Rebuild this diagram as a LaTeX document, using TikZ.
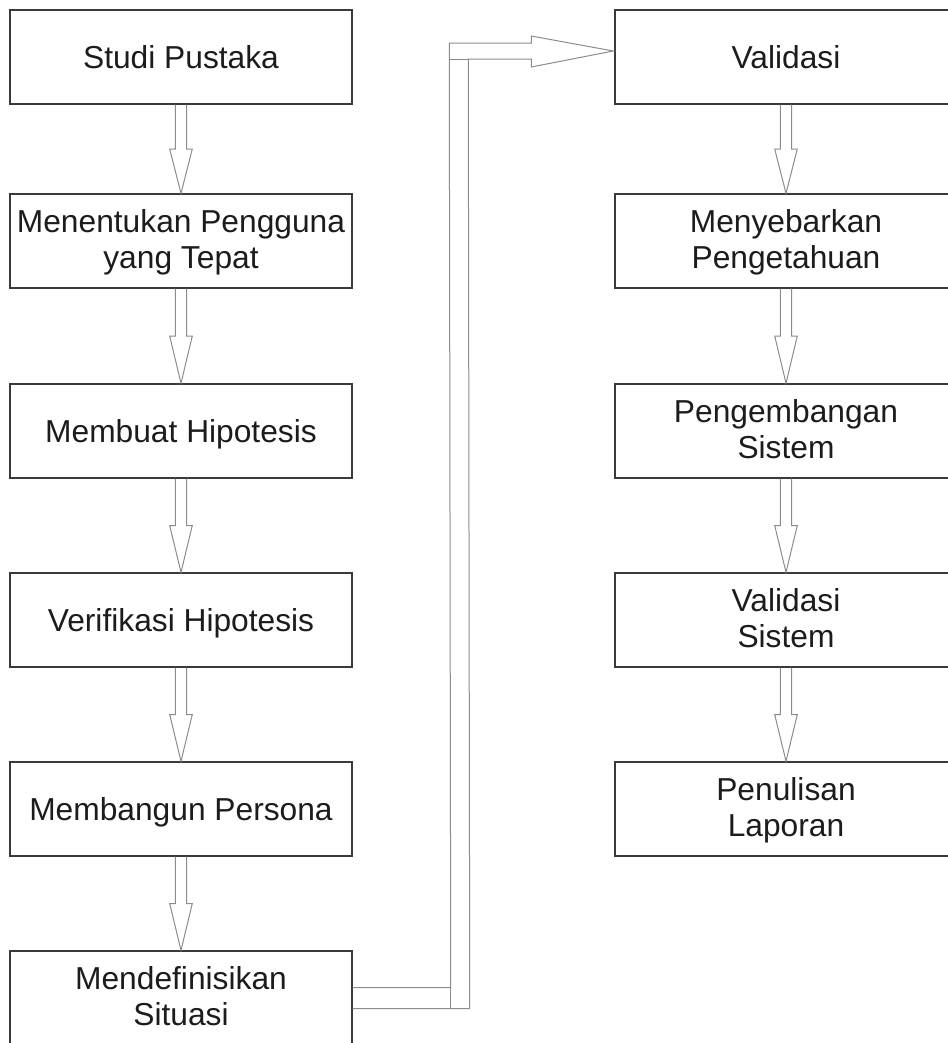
\documentclass[tikz,border=0pt]{standalone}
\usepackage{fontspec}
\setmainfont{Liberation Sans}
\usetikzlibrary{calc}
\definecolor{boxgray}{HTML}{3A3A3A}
\definecolor{arrowgray}{HTML}{8C8C8C}
\definecolor{textdark}{HTML}{1C1C1C}
% two centred lines, baseline on the first one
\newcommand\stacklines[2]{\begin{tabular}[t]{@{}c@{}}#1\\#2\end{tabular}}
% hollow block arrow from the bottom of one box to the top of the next
\newcommand\blockdown[2]{%
  \coordinate (#1-mid) at ($(#1.south)!.5!(#2.north)$);
  \draw[hollow] ($(#1.south)+(-5.6,0)$) -- ($(#1-mid)+(-5.6,0)$)
    -- ($(#1-mid)+(-11.3,0)$) -- (#2.north) -- ($(#1-mid)+(11.3,0)$)
    -- ($(#1-mid)+(5.6,0)$) -- ($(#1.south)+(5.6,0)$);}
\tikzset{
  stepbox/.style={draw=boxgray, line width=1.1pt, rectangle,
    minimum width=256.5pt, minimum height=70.5pt, inner sep=0pt,
    font=\fontsize{23.8}{27}\selectfont, text=textdark,
    text height=17pt, text depth=0pt},
  stepboxtwo/.style={stepbox, text height=17pt, text depth=29.8pt},
  hollow/.style={draw=arrowgray, line width=0.75pt, line join=miter}
}
\begin{document}
\begin{tikzpicture}[x=0.75pt, y=-0.75pt]
\fill[white] (0,0) rectangle (947,1043);
\useasboundingbox (0,0) rectangle (947,1043);

% left column
\node[stepbox]    (studi) at (181,57)  {Studi Pustaka};
\node[stepboxtwo] (tentu) at (181,241) {\stacklines{Menentukan Pengguna}{yang Tepat}};
\node[stepbox]    (buat)  at (181,431) {Membuat Hipotesis};
\node[stepbox]    (veri)  at (181,620) {Verifikasi Hipotesis};
\node[stepbox]    (bangun) at (181,809) {Membangun Persona};
\node[stepboxtwo] (situ)  at (181,998) {\stacklines{Mendefinisikan}{Situasi}};

% right column
\node[stepbox]    (valid) at (786,57)  {Validasi};
\node[stepboxtwo] (sebar) at (786,241) {\stacklines{Menyebarkan}{Pengetahuan}};
\node[stepboxtwo] (kembang) at (786,431) {\stacklines{Pengembangan}{Sistem}};
\node[stepboxtwo] (valsis) at (786,620) {\stacklines{Validasi}{Sistem}};
\node[stepboxtwo] (tulis) at (786,809) {\stacklines{Penulisan}{Laporan}};

% arrows down each column
\blockdown{studi}{tentu}
\blockdown{tentu}{buat}
\blockdown{buat}{veri}
\blockdown{veri}{bangun}
\blockdown{bangun}{situ}
\blockdown{valid}{sebar}
\blockdown{sebar}{kembang}
\blockdown{kembang}{valsis}
\blockdown{valsis}{tulis}

% bent block arrow from the last step of the left column to the top of the right one
\coordinate (tip) at ($(valid.west)+(-1,-6)$);
\draw[hollow] ($(situ.east)+(0,-10.5)$) -- ($(situ.east)+(98,-10.5)$)
  -- ($(valid.west)+(-165,-14)$) -- ($(valid.west)+(-83,-14)$)
  -- ($(valid.west)+(-83,-21)$) -- (tip) -- ($(valid.west)+(-83,10)$)
  -- ($(valid.west)+(-83,2)$) -- ($(valid.west)+(-146,2)$)
  -- ($(situ.east)+(117,10.5)$) -- ($(situ.east)+(0,10.5)$);
\draw[hollow] ($(valid.west)+(-165,2)$) -- ($(valid.west)+(-146,2)$);
\draw[hollow] ($(situ.east)+(98,-10.5)$) -- ($(situ.east)+(98,10.5)$);
\end{tikzpicture}
\end{document}
